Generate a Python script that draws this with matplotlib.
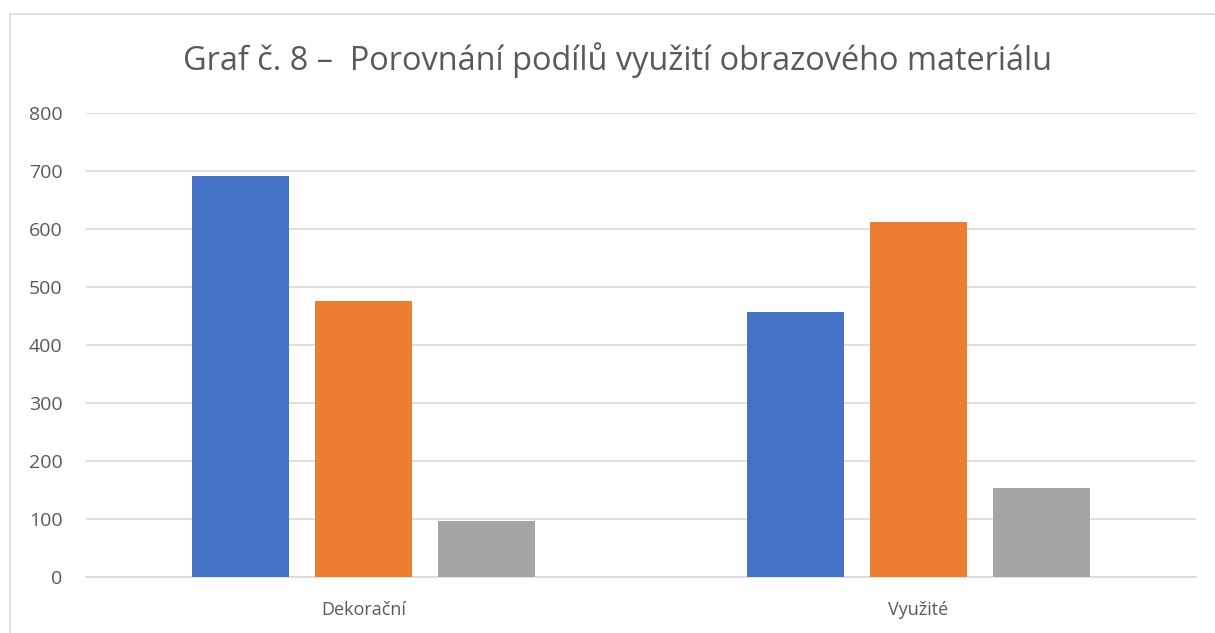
import matplotlib.pyplot as plt
import matplotlib.patches as mpatches
import numpy as np

categories = ['Dekorační', 'Využité']
series_a = [691, 457]
series_b = [476, 612]
series_c = [97, 153]
colors = ['#4472c4', '#ed7d31', '#a5a5a5']

plt.rcParams['font.family'] = ['Open Sans', 'DejaVu Sans']

fig = plt.figure(figsize=(12.15, 6.33), dpi=100)
# chart frame (cropped on the right and bottom)
fig.patches.append(mpatches.Rectangle((10 / 1215, -0.1), 1.2, (633 - 14) / 633 + 0.1,
                                      transform=fig.transFigure, fill=False,
                                      edgecolor='#d9d9d9', linewidth=1.2))
ax = fig.add_axes([86 / 1215, 56 / 633, 1110 / 1215, 464 / 633])

x = np.arange(len(categories))
width = 0.175
step = 0.2216
for i, (vals, c) in enumerate(zip([series_a, series_b, series_c], colors)):
    ax.bar(x + (i - 1) * step, vals, width, color=c, zorder=3)

ax.set_xlim(-0.5, 1.5)
ax.set_ylim(0, 800)
ax.set_yticks(np.arange(0, 801, 100))
ax.set_xticks(x)
ax.set_xticklabels(categories)
ax.grid(axis='y', color='#d9d9d9', linewidth=1.2, zorder=0)
for s in ['top', 'right', 'left']:
    ax.spines[s].set_visible(False)
ax.spines['bottom'].set_color('#d9d9d9')
ax.spines['bottom'].set_linewidth(1.2)
ax.tick_params(axis='both', length=0, colors='#595959')
ax.tick_params(axis='y', labelsize=14, pad=17)
ax.tick_params(axis='x', labelsize=13, pad=17)

fig.text(0.508, 0.905, 'Graf č. 8 –  Porovnání podílů využití obrazového materiálu',
         ha='center', va='center', fontsize=23.4, color='#595959')

fig.savefig('out.png', dpi=100)
